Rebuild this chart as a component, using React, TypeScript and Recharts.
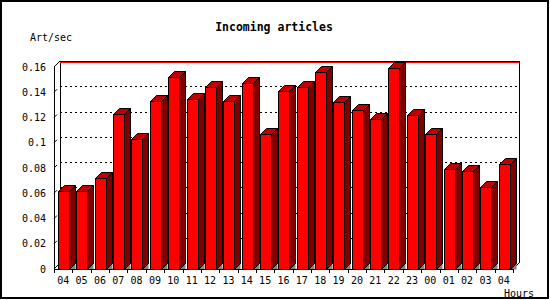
import React from 'react';
import { BarChart, Bar, XAxis, YAxis, CartesianGrid } from 'recharts';

const hours = ['04', '05', '06', '07', '08', '09', '10', '11', '12', '13', '14', '15', '16', '17', '18', '19', '20', '21', '22', '23', '00', '01', '02', '03', '04'];
const artPerSec = [0.062, 0.062, 0.072, 0.123, 0.103, 0.133, 0.152, 0.135, 0.144, 0.133, 0.147, 0.107, 0.141, 0.144, 0.156, 0.132, 0.126, 0.119, 0.159, 0.122, 0.107, 0.079, 0.078, 0.065, 0.083];
const yTicks = [0, 0.02, 0.04, 0.06, 0.08, 0.1, 0.12, 0.14, 0.16];

const data = hours.map((h, i) => ({ hour: h, value: artPerSec[i] }));

const W = 550;
const H = 300;
const DEPTH = 6;
const MONO = '"DejaVu Sans Mono", monospace';
// plot box (front plane)
const PL = 54;
const PR = 513;
const PT = 67;
const PB = 269;
const BAND = (PR - PL) / hours.length;

const px = (v: number) => Math.round(v) + 0.5;

const Bar3D = (props: any) => {
  const { x, y, width, height } = props;
  if (height == null || height <= 0) return null;
  const x0 = px(x);
  const y0 = px(y);
  const xr = px(x + width);
  const yb = px(y + height);
  const d = DEPTH;
  return (
    <g>
      <polygon points={`${xr},${yb} ${xr + d},${yb - d} ${xr + d},${yb}`} fill="#808080" />
      <polygon
        points={`${xr},${y0} ${xr + d},${y0 - d} ${xr + d},${yb - d} ${xr},${yb}`}
        fill="#800000"
        stroke="#000"
        strokeWidth={1}
      />
      <polygon
        points={`${x0},${y0} ${x0 + d},${y0 - d} ${xr + d},${y0 - d} ${xr},${y0}`}
        fill="#C00000"
        stroke="#000"
        strokeWidth={1}
      />
      <rect x={x0} y={y0} width={xr - x0} height={yb - y0} fill="#FF0000" stroke="#000" strokeWidth={1} shapeRendering="crispEdges" />
    </g>
  );
};

const YTick = (props: any) => {
  const { x, y, payload } = props;
  const label = payload.value === 0 ? '0' : String(payload.value);
  return (
    <g>
      <line x1={x + 8} y1={y} x2={x + 11} y2={y - 3} stroke="#000" />
      <text x={x} y={y} textAnchor="end" dominantBaseline="central" fontFamily={MONO} fontSize={10} fill="#000">
        {label}
      </text>
    </g>
  );
};

const XTick = (props: any) => {
  const { x, y, payload, index } = props;
  const left = px(x - BAND / 2);
  return (
    <g>
      <line x1={left} y1={y - 5} x2={left} y2={y - 1} stroke="#000" shapeRendering="crispEdges" />
      {index === hours.length - 1 && (
        <line x1={px(x + BAND / 2)} y1={y - 5} x2={px(x + BAND / 2)} y2={y - 1} stroke="#000" shapeRendering="crispEdges" />
      )}
      <text x={x} y={y + 6} textAnchor="middle" dominantBaseline="central" fontFamily={MONO} fontSize={10} fill="#000">
        {payload.value}
      </text>
    </g>
  );
};

const BackGridLine = (props: any) => {
  const { x1, x2, y1, index } = props;
  if (y1 <= PT + 1 || y1 >= PB - 1) return <g key={`g${index}`} />;
  const yy = px(y1 - DEPTH);
  return (
    <line
      key={`g${index}`}
      x1={x1 + DEPTH}
      x2={x2 + DEPTH}
      y1={yy}
      y2={yy}
      stroke="#000"
      strokeDasharray="2 3"
      shapeRendering="crispEdges"
    />
  );
};

export default function App() {
  return (
    <div style={{ position: 'absolute', left: 0, top: 0, width: W, height: H, background: '#fff' }}>
      <svg width={W} height={H} style={{ position: 'absolute', left: 0, top: 0 }}>
        <rect x={1} y={1} width={W - 3} height={H - 3} fill="#fff" stroke="#000" strokeWidth={2} />
        <text x={274} y={27} textAnchor="middle" dominantBaseline="central" fontFamily={MONO} fontSize={11.5} fontWeight="bold">
          Incoming articles
        </text>
        <text x={30} y={37} dominantBaseline="central" fontFamily={MONO} fontSize={10}>
          Art/sec
        </text>
        <text x={504} y={293} dominantBaseline="central" fontFamily={MONO} fontSize={10}>
          Hours
        </text>
        {/* back plane */}
        <g shapeRendering="crispEdges">
          <line x1={PL + DEPTH + 0.5} y1={PT - DEPTH} x2={PL + DEPTH + 0.5} y2={PB - DEPTH} stroke="#000" />
          <line x1={PR + DEPTH + 0.5} y1={PT - DEPTH} x2={PR + DEPTH + 0.5} y2={PB - DEPTH} stroke="#000" />
          <line x1={PL + DEPTH} y1={PT - DEPTH + 0.5} x2={PR + DEPTH} y2={PT - DEPTH + 0.5} stroke="#000" />
          <line x1={PL + DEPTH} y1={PT - DEPTH + 1.5} x2={PR + DEPTH} y2={PT - DEPTH + 1.5} stroke="#f00" />
        </g>
        <line x1={PL} y1={PT} x2={PL + DEPTH} y2={PT - DEPTH} stroke="#000" />
        <line x1={PL} y1={PB} x2={PL + DEPTH} y2={PB - DEPTH} stroke="#000" />
        <line x1={PR} y1={PB} x2={PR + DEPTH} y2={PB - DEPTH} stroke="#000" />
      </svg>
      <div style={{ position: 'absolute', left: 0, top: 0 }}>
        <BarChart
          width={W}
          height={H}
          data={data}
          margin={{ top: PT, right: W - PR, bottom: 6, left: 4 }}
          barSize={11}
        >
          <CartesianGrid vertical={false} horizontal={BackGridLine} />
          <XAxis
            dataKey="hour"
            height={H - PB - 6}
            interval={0}
            axisLine={{ stroke: '#000', shapeRendering: 'crispEdges' }}
            tickLine={false}
            tickSize={5}
            tickMargin={0}
            tick={<XTick />}
          />
          <YAxis
            width={PL - 4}
            domain={[0, 0.16]}
            ticks={yTicks}
            interval={0}
            axisLine={{ stroke: '#000', shapeRendering: 'crispEdges' }}
            tickLine={false}
            tickSize={8}
            tickMargin={0}
            tick={<YTick />}
          />
          <Bar dataKey="value" shape={<Bar3D />} isAnimationActive={false} />
        </BarChart>
      </div>
    </div>
  );
}
